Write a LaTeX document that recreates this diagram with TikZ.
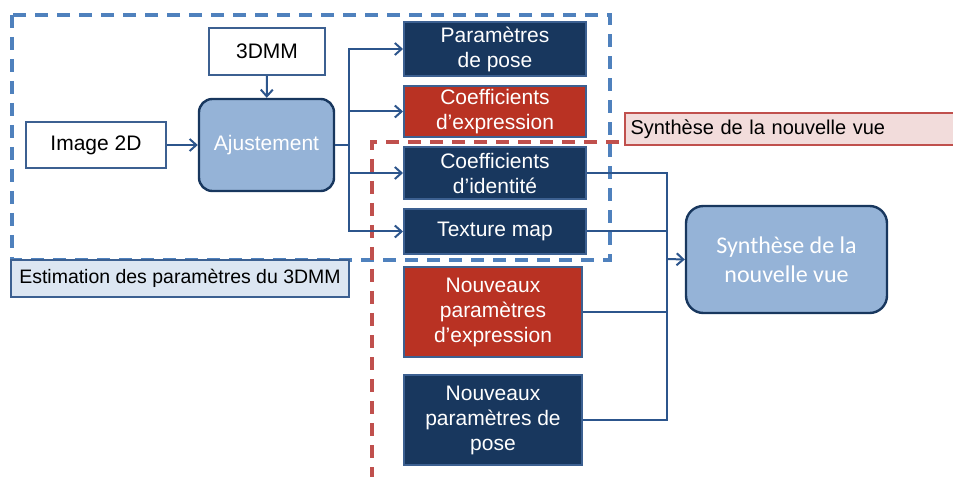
\documentclass[tikz,border=0pt]{standalone}
\usepackage{fontspec}
\setmainfont{Liberation Sans}
\newfontfamily\calibri{Carlito}
\definecolor{navyfill}{RGB}{24,55,94}
\definecolor{redfill}{RGB}{185,50,35}
\definecolor{boxline}{RGB}{60,96,145}
\definecolor{linkcol}{RGB}{44,85,140}
\definecolor{softblue}{RGB}{149,179,215}
\definecolor{paleblue}{RGB}{220,230,242}
\definecolor{palered}{RGB}{242,220,219}
\definecolor{dashblue}{RGB}{79,129,189}
\definecolor{dashred}{RGB}{192,80,77}
\usetikzlibrary{arrows.meta,positioning}

\begin{document}
\begin{tikzpicture}[x=0.75pt,y=-0.75pt,
        font=\fontsize{15.75}{18.75}\selectfont,
        box/.style={draw=boxline,line width=1.5pt,align=center,inner sep=0pt},
        dark/.style={box,fill=navyfill,text=white},
        hot/.style={box,fill=redfill,text=white},
        soft/.style={draw=navyfill,line width=1.8pt,fill=softblue,text=white,align=center,rounded corners=10pt,inner sep=0pt},
        tag/.style={line width=1.5pt,font=\fontsize{14.6}{17}\selectfont,inner sep=0pt},
        frame/.style={line width=2.3pt,dash pattern=on 10pt off 6.5pt},
        link/.style={draw=linkcol,line width=1.5pt},
        arr/.style={link,-{Straight Barb[length=5pt,width=9pt,line width=1.5pt]}}]
        \useasboundingbox (0,0) rectangle (953,477);
        \draw[frame,dashblue] (12,15) rectangle (610,260);
        \draw[frame,dashred] (619,142) -- (372,142) -- (372,480);
        \node[box,fill=white,minimum width=87pt,minimum height=35.25pt] (dmm) at (267,51.5) {3DMM};
        \node[box,fill=white,minimum width=105pt,minimum height=34.5pt] (img) at (96,145) {Image 2D};
        \node[soft,minimum width=101.25pt,minimum height=69pt] (ajust) at (266.5,145) {Ajustement};
        \node[dark,minimum width=136.5pt,minimum height=40.5pt] (pose) at (495,49) {Paramètres\\de pose};
        \node[hot,minimum width=136.5pt,minimum height=38.25pt] (expr) at (495,111.5) {Coefficients\\d’expression};
        \node[dark,minimum width=136.5pt,minimum height=39pt] (ident) at (495,173) {Coefficients\\d’identité};
        \node[dark,minimum width=136.5pt,minimum height=33.75pt] (tex) at (495,231.5) {Texture map};
        \node[hot,minimum width=133.5pt,minimum height=67.5pt] (nexpr) at (493,312) {Nouveaux\\paramètres\\d’expression};
        \node[dark,minimum width=133.5pt,minimum height=67.5pt] (npose) at (493,420) {Nouveaux\\paramètres de\\pose};
        \node[soft,rounded corners=13pt,minimum width=150.75pt,minimum height=80.25pt,
          font=\calibri\fontsize{18}{21.75}\selectfont] (synth) at (786.5,259.5) {Synthèse de la\\nouvelle vue};
        \node[tag,draw=boxline,fill=paleblue,minimum width=253.5pt,minimum height=27.75pt] (estim) at (180,278.5) {Estimation des paramètres du 3DMM};
        \node[tag,draw=dashred,fill=palered,anchor=west,minimum width=248.25pt,minimum height=24pt,
          font=\fontsize{15}{17}\selectfont,text width=240pt,align=left] (synlab) at (624,129) {Synthèse de la nouvelle vue};
        \coordinate (s1) at (349,145);
        \coordinate (s2) at (667,259);
        \draw[arr] (img) -- (ajust);
        \draw[arr] (dmm) -- (ajust);
        \draw[link] (ajust.east) -- (s1);
        \foreach \n in {pose,expr,ident,tex}
          \draw[arr] (s1) |- (\n.west);
        \foreach \n in {ident,tex,nexpr,npose}
          \draw[link] (\n.east) -| (s2);
        \draw[arr] (s2) -- (synth.west);
      \end{tikzpicture}
\end{document}
